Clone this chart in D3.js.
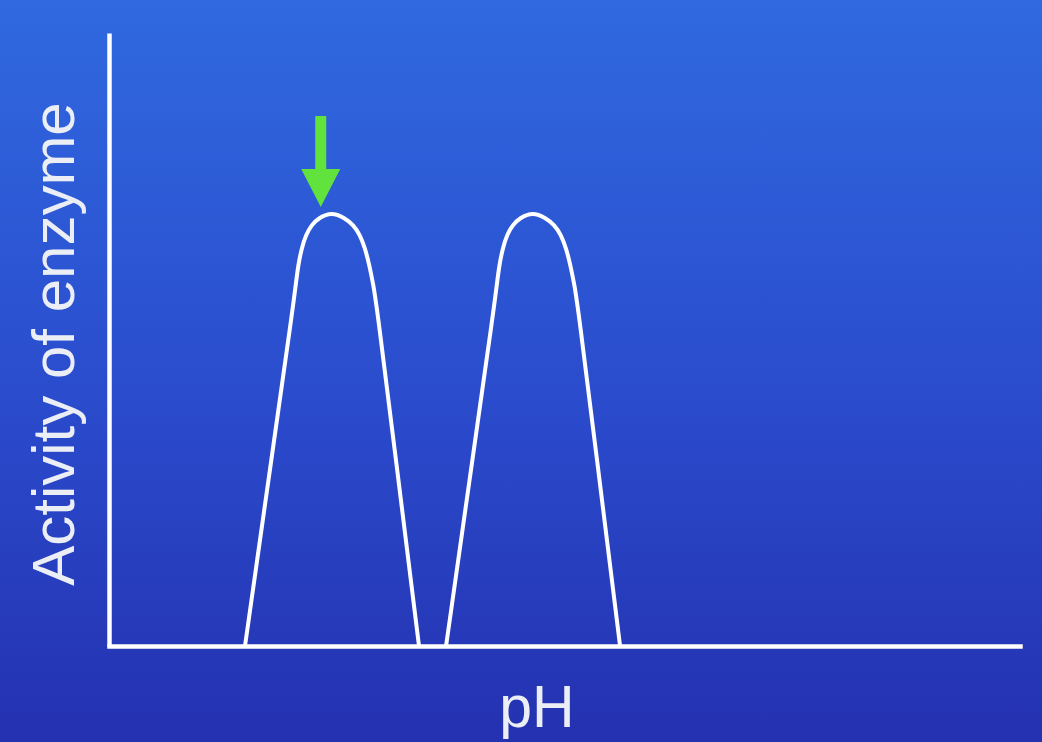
<!DOCTYPE html>
<html>
<head>
<meta charset="utf-8">
<script src="https://cdn.jsdelivr.net/npm/d3@7"></script>
<style>
  html, body { margin: 0; padding: 0; overflow: hidden; }
  svg { display: block; }
</style>
</head>
<body>
<div id="chart"></div>
<script>
let wSvg = 1042; let hSvg = 742;
let xLeft = 109; let xRight = 1020;
let yTop = 33; let yBottom = 646;

let lineColor = "#ffffff";
let textColor = "#eceef6";
let arrowColor = "#62e23c";

// data (x = pH, y = activity)
const enzymeA_pH = [2.090, 2.459, 2.832, 2.869, 2.909, 2.961, 3.027, 3.115, 3.217, 3.422, 3.627, 3.754, 3.857, 3.934, 4.000, 4.062, 4.114, 4.441, 4.764];
const enzymeA_act = [0, 27.7, 55.6, 58.9, 62.2, 64.9, 67.1, 68.7, 69.8, 70.8, 69.8, 68.7, 67.1, 64.9, 62.2, 58.9, 55.6, 27.7, 0];
const enzymeB_pH = [5.180, 5.549, 5.922, 5.959, 5.999, 6.051, 6.117, 6.205, 6.307, 6.512, 6.717, 6.844, 6.947, 7.024, 7.090, 7.152, 7.204, 7.531, 7.854];
const enzymeB_act = [0, 27.7, 55.6, 58.9, 62.2, 64.9, 67.1, 68.7, 69.8, 70.8, 69.8, 68.7, 67.1, 64.9, 62.2, 58.9, 55.6, 27.7, 0];
const optimumPH = 3.254;   // green arrow points here
const optimumAct = 71.6;

const xLabel = "pH";
const yLabel = "Activity of enzyme";

let svg = d3.select("#chart")
    .append("svg")
    .attr("width", wSvg)
    .attr("height", hSvg);

// background gradient
const grad = svg.append("defs").append("linearGradient")
    .attr("id", "bg")
    .attr("x1", 0).attr("y1", 0).attr("x2", 0).attr("y2", 1);
grad.append("stop").attr("offset", "0%").attr("stop-color", "#3069e0");
grad.append("stop").attr("offset", "55%").attr("stop-color", "#2a4bcc");
grad.append("stop").attr("offset", "100%").attr("stop-color", "#2431b0");

svg.append("rect")
    .attr("width", wSvg)
    .attr("height", hSvg)
    .attr("fill", "url(#bg)");

const xScale = d3.scaleLinear()
    .domain([0, 14])
    .range([xLeft, xRight]);

const yScale = d3.scaleLinear()
    .domain([0, 100])
    .range([yBottom, yTop]);

// axes without ticks
const axisLeft = d3.axisLeft(yScale).tickValues([]).tickSizeOuter(0);
const axisBottom = d3.axisBottom(xScale).tickValues([]).tickSizeOuter(0);

svg.append("g")
    .attr("transform", `translate(${xLeft}, 0)`)
    .call(axisLeft)
    .select(".domain")
    .attr("stroke", lineColor)
    .attr("stroke-width", 4.5);

svg.append("g")
    .attr("transform", `translate(0, ${yBottom})`)
    .call(axisBottom)
    .select(".domain")
    .attr("stroke", lineColor)
    .attr("stroke-width", 4.5)
    .attr("stroke-linecap", "square");

// curves
const lineGenerator = d3.line()
    .x(d => xScale(d[0]))
    .y(d => yScale(d[1]))
    .curve(d3.curveBasis);

const curves = [
    d3.zip(enzymeA_pH, enzymeA_act),
    d3.zip(enzymeB_pH, enzymeB_act)
];

svg.append("g")
    .selectAll("path")
    .data(curves)
    .enter()
    .append("path")
    .attr("fill", "none")
    .attr("stroke", lineColor)
    .attr("stroke-width", 4)
    .attr("d", lineGenerator);

// green arrow pointing at the optimum
const ax = xScale(optimumPH);
const ay = yScale(optimumAct);
svg.append("path")
    .attr("fill", arrowColor)
    .attr("d", `M${ax - 5.5},${ay - 91} L${ax + 5.5},${ay - 91} L${ax + 5.5},${ay - 38}
        L${ax + 19.5},${ay - 38} L${ax},${ay} L${ax - 19.5},${ay - 38} L${ax - 5.5},${ay - 38} Z`);

// labels
svg.append("text")
    .attr("x", 537)
    .attr("y", 727)
    .attr("text-anchor", "middle")
    .attr("fill", textColor)
    .style("font-family", "Liberation Sans, Arial, sans-serif")
    .style("font-size", "59px")
    .text(xLabel);

svg.append("text")
    .attr("transform", `translate(74, 344) rotate(-90)`)
    .attr("text-anchor", "middle")
    .attr("fill", textColor)
    .style("font-family", "Liberation Sans, Arial, sans-serif")
    .style("font-size", "60px")
    .text(yLabel);
</script>
</body>
</html>
